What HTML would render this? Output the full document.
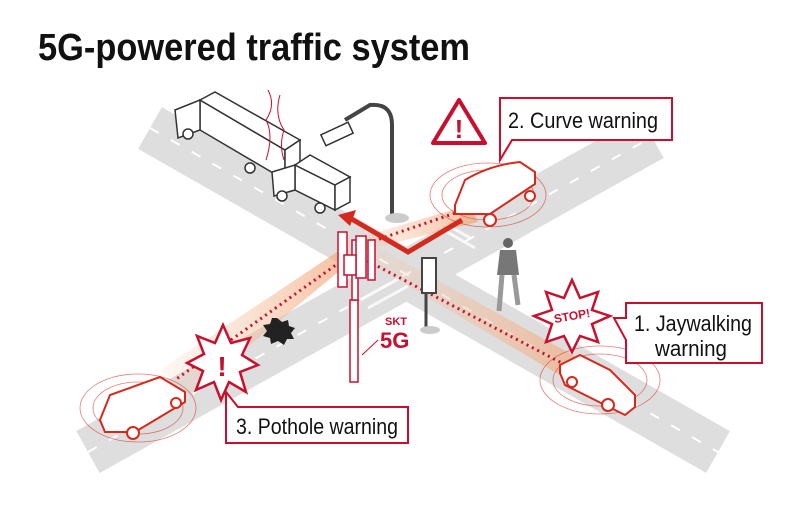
<!DOCTYPE html>
<html><head><meta charset="utf-8"><style>
html,body{margin:0;padding:0;background:#fff;}
svg{display:block;font-family:"Liberation Sans",sans-serif;}
</style></head><body>
<svg width="800" height="513" viewBox="0 0 800 513" xmlns="http://www.w3.org/2000/svg">
<defs>
<linearGradient id="b2" x1="1" y1="0" x2="0" y2="0"><stop offset="0" stop-color="#f3a67a" stop-opacity="0.9"/><stop offset="1" stop-color="#f7c3a0" stop-opacity="0.15"/></linearGradient>
</defs>
<rect width="800" height="513" fill="#fff"/>
<text x="38" y="60" font-size="38" font-weight="bold" fill="#111" textLength="432" lengthAdjust="spacingAndGlyphs">5G-powered traffic system</text>

<!-- roads -->
<line x1="150" y1="128" x2="718" y2="452" stroke="#dedede" stroke-width="48"/>
<line x1="88" y1="452" x2="652" y2="137" stroke="#dedede" stroke-width="48"/>
<line x1="150" y1="128" x2="718" y2="452" stroke="#fff" stroke-width="2" stroke-dasharray="10 14"/>
<line x1="88" y1="452" x2="652" y2="137" stroke="#fff" stroke-width="2" stroke-dasharray="10 14"/>
<g stroke="#fff" stroke-width="3" opacity="0.8">
<line x1="430" y1="215" x2="470" y2="238"/><line x1="435" y1="225" x2="475" y2="248"/>
<line x1="360" y1="300" x2="400" y2="278"/><line x1="368" y1="308" x2="408" y2="286"/>
</g>

<!-- beams -->
<polygon points="345,255 350,240 470,205 478,222" fill="url(#b2)" opacity="0.8"/>
<polygon points="340,250 350,262 190,395 160,370" fill="url(#b2)" opacity="0.8"/>
<polygon points="355,255 365,240 600,370 585,390" fill="url(#b2)" opacity="0.8"/>
<g stroke="#c8102e" stroke-width="3" stroke-dasharray="2 4" fill="none">
<line x1="362" y1="245" x2="470" y2="208"/>
<line x1="340" y1="262" x2="175" y2="380"/>
<line x1="362" y1="258" x2="575" y2="370"/>
</g>
<polyline points="462,220 408,252 350,218" fill="none" stroke="#d42a1e" stroke-width="5"/>
<polygon points="338,215 356,210 350,226" fill="#d42a1e"/>

<!-- trucks -->
<g fill="#fff" stroke="#333" stroke-width="1.5">
<polygon points="200,100 285,150 285,180 200,130"/>
<polygon points="200,100 215,92 300,140 285,150"/>
<polygon points="285,150 300,140 300,170 285,180"/>
<polygon points="175,110 200,100 200,130 178,138"/>
<circle cx="188" cy="134" r="5"/><circle cx="250" cy="168" r="5"/>
<polygon points="295,165 335,185 335,210 295,190"/>
<polygon points="295,165 310,155 350,177 335,185"/>
<polygon points="335,185 350,177 350,202 335,210"/>
<polygon points="272,172 295,165 295,190 274,196"/>
<circle cx="282" cy="196" r="5"/><circle cx="320" cy="208" r="5"/>
</g>
<path d="M268 90 q8 15 -2 30 q8 15 0 40" stroke="#c8102e" fill="none" stroke-width="1"/>
<path d="M280 95 q-6 20 4 35 q-5 15 0 30" stroke="#c8102e" fill="none" stroke-width="1"/>

<path d="M392 218 V125 q0 -22 -22 -20 L345 120" stroke="#444" stroke-width="4" fill="none"/>
<ellipse cx="397" cy="218" rx="12" ry="5" fill="#ccc"/>
<rect x="322" y="128" width="30" height="12" fill="#fff" stroke="#333" stroke-width="1.5" transform="rotate(-25 337 134)"/>

<line x1="426" y1="265" x2="426" y2="328" stroke="#444" stroke-width="3"/>
<rect x="422" y="258" width="14" height="35" fill="#fff" stroke="#444" stroke-width="2"/>
<ellipse cx="430" cy="330" rx="10" ry="4" fill="#ccc"/>

<circle cx="508" cy="243" r="5" fill="#666"/>
<path d="M500 250 h16 l3 25 h-22z" fill="#777"/>
<path d="M502 275 l-3 36 M514 275 l4 30" stroke="#999" stroke-width="5"/>

<g fill="#fff" stroke="#c8102e" stroke-width="1.5">
<rect x="350" y="300" width="8" height="82"/>
<rect x="352" y="240" width="6" height="60"/>
<rect x="338" y="232" width="9" height="55"/>
<rect x="356" y="236" width="10" height="42"/>
<rect x="368" y="240" width="7" height="40"/>
<rect x="344" y="255" width="12" height="20"/>
</g>
<text x="385" y="325" font-size="11" font-weight="bold" fill="#c8102e">SKT</text>
<text x="380" y="348" font-size="22" font-weight="bold" fill="#c8102e">5G</text>
<line x1="378" y1="340" x2="362" y2="355" stroke="#c8102e" stroke-width="1"/>

<polygon points="277,318 282,322 288,320 289,326 295,328 291,333 294,339 287,339 284,345 278,341 271,344 270,338 263,336 267,331 263,325 270,324 272,318" fill="#222"/>

<g fill="#fff" stroke="#d42a1e" stroke-width="2">
<ellipse cx="488" cy="195" rx="58" ry="32" fill="none" stroke-width="0.8" opacity="0.6"/>
<ellipse cx="488" cy="195" rx="46" ry="25" fill="none" stroke-width="0.8" opacity="0.6"/>
<path d="M455 205 l10 -25 q25 -15 55 -18 l15 10 v12 l-45 30 h-35z"/>
<circle cx="490" cy="220" r="6"/><circle cx="530" cy="196" r="5"/>
<ellipse cx="600" cy="380" rx="60" ry="34" fill="none" stroke-width="0.8" opacity="0.6"/>
<ellipse cx="600" cy="380" rx="47" ry="26" fill="none" stroke-width="0.8" opacity="0.6"/>
<path d="M560 365 l20 -10 l30 15 l25 25 v12 l-10 8 l-60 -30 l-5 -12z"/>
<circle cx="608" cy="405" r="6"/><circle cx="572" cy="382" r="5"/>
<ellipse cx="138" cy="408" rx="58" ry="34" fill="none" stroke-width="0.8" opacity="0.6"/>
<ellipse cx="138" cy="408" rx="45" ry="26" fill="none" stroke-width="0.8" opacity="0.6"/>
<path d="M100 420 l10 -25 l50 -18 l25 15 v10 l-50 30 h-30z"/>
<circle cx="133" cy="433" r="6"/><circle cx="176" cy="403" r="5"/>
</g>

<path d="M459 100 L485 143 H433 Z" fill="#fff" stroke="#c8102e" stroke-width="4" stroke-linejoin="round"/>
<text x="459" y="138" font-size="26" font-weight="bold" fill="#c8102e" text-anchor="middle">!</text>

<polygon points="572,280 580,298 598,292 592,310 610,316 592,324 598,342 580,336 572,352 564,336 546,342 552,324 534,316 552,310 546,292 564,298" fill="#fff" stroke="#c8102e" stroke-width="2.5"/>
<text x="572" y="320" font-size="12" font-weight="bold" fill="#c8102e" text-anchor="middle" transform="rotate(-10 572 316)">STOP!</text>

<polygon points="223,325 231,343 250,338 242,355 258,365 240,372 246,392 229,382 221,400 214,382 196,390 203,371 187,363 204,354 197,336 215,343" fill="#fff" stroke="#c8102e" stroke-width="2.5"/>
<text x="222" y="376" font-size="28" font-weight="bold" fill="#c8102e" text-anchor="middle">!</text>

<g fill="#fff" stroke="#c8102e" stroke-width="2">
<path d="M500 98 H672 V140 H512 L500 160 Z"/>
<path d="M626 303 H762 V363 H626 V340 L614 318 L626 318 Z"/>
<path d="M226 407 V392 L238 407 H408 V443 H226 Z"/>
</g>
<g fill="#111" font-size="22">
<text x="508" y="128" textLength="150" lengthAdjust="spacingAndGlyphs">2. Curve warning</text>
<text x="634" y="331" textLength="118" lengthAdjust="spacingAndGlyphs">1. Jaywalking</text>
<text x="655" y="356" textLength="72" lengthAdjust="spacingAndGlyphs">warning</text>
<text x="236" y="434" textLength="162" lengthAdjust="spacingAndGlyphs">3. Pothole warning</text>
</g>
</svg>
</body></html>
